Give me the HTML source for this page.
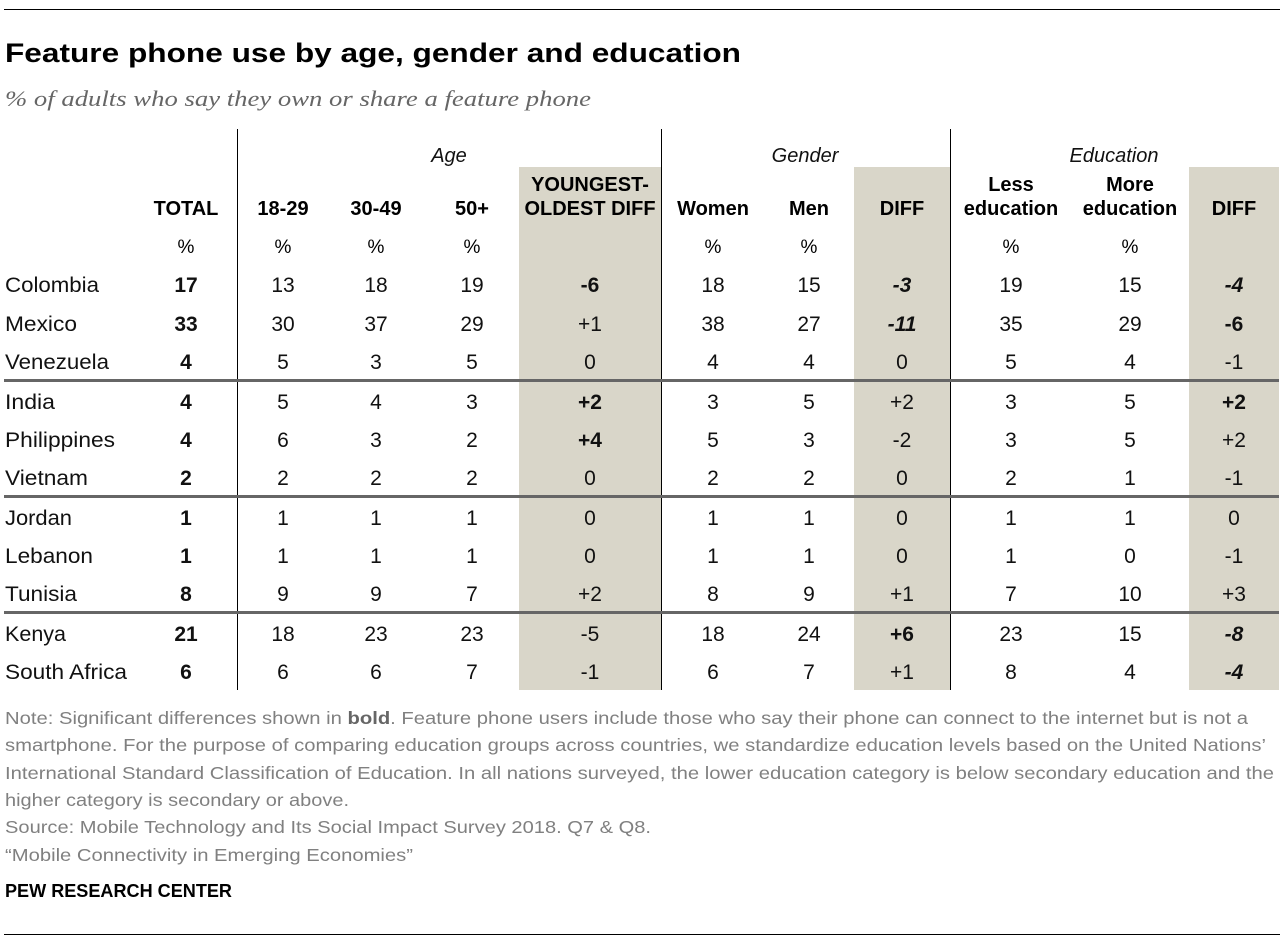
<!DOCTYPE html>
<html><head><meta charset="utf-8"><style>
html,body{margin:0;padding:0;background:#fff;}
svg{display:block;}
text{font-family:"Liberation Sans",Arial,sans-serif;}
.h{font-weight:bold;font-size:20px;fill:#000;text-anchor:middle;}
.p{font-size:19px;fill:#000;text-anchor:middle;}
.n{font-size:21px;fill:#111;text-anchor:middle;}
.b{font-weight:bold;}
.i{font-style:italic;}
.c{font-size:21px;fill:#111;}
.g{font-style:italic;font-size:20px;fill:#111;text-anchor:middle;}
.note{font-size:17.5px;fill:#808080;}
</style></head><body>
<svg width="1286" height="946" viewBox="0 0 1286 946" xmlns="http://www.w3.org/2000/svg">
<rect x="0" y="0" width="1286" height="946" fill="#fff"/>
<line x1="4" y1="9.5" x2="1280" y2="9.5" stroke="#000" stroke-width="1"/>
<text x="5" y="62" font-size="27" font-weight="bold" fill="#000" textLength="736" lengthAdjust="spacingAndGlyphs">Feature phone use by age, gender and education</text>
<text x="5" y="106" font-size="22" font-style="italic" fill="#666" style="font-family:'Liberation Serif',serif" textLength="586" lengthAdjust="spacingAndGlyphs">% of adults who say they own or share a feature phone</text>

<!-- shaded columns -->
<rect x="519" y="167" width="142" height="523" fill="#d9d6c9"/>
<rect x="854" y="167" width="96" height="523" fill="#d9d6c9"/>
<rect x="1189" y="167" width="90" height="523" fill="#d9d6c9"/>

<!-- vertical lines -->
<line x1="237.5" y1="129" x2="237.5" y2="690" stroke="#000" stroke-width="1"/>
<line x1="661.5" y1="129" x2="661.5" y2="690" stroke="#000" stroke-width="1"/>
<line x1="950.5" y1="129" x2="950.5" y2="690" stroke="#000" stroke-width="1"/>

<!-- group headers -->
<text class="g" x="449" y="162">Age</text>
<text class="g" x="805" y="162">Gender</text>
<text class="g" x="1114" y="162">Education</text>

<!-- column headers -->
<text class="h" x="186" y="215">TOTAL</text>
<text class="h" x="283" y="215">18-29</text>
<text class="h" x="376" y="215">30-49</text>
<text class="h" x="472" y="215">50+</text>
<text class="h" x="590" y="191">YOUNGEST-</text>
<text class="h" x="590" y="215">OLDEST DIFF</text>
<text class="h" x="713" y="215">Women</text>
<text class="h" x="809" y="215">Men</text>
<text class="h" x="902" y="215">DIFF</text>
<text class="h" x="1011" y="191">Less</text>
<text class="h" x="1011" y="215">education</text>
<text class="h" x="1130" y="191">More</text>
<text class="h" x="1130" y="215">education</text>
<text class="h" x="1234" y="215">DIFF</text>

<text class="p" x="186" y="253">%</text>
<text class="p" x="283" y="253">%</text>
<text class="p" x="376" y="253">%</text>
<text class="p" x="472" y="253">%</text>
<text class="p" x="713" y="253">%</text>
<text class="p" x="809" y="253">%</text>
<text class="p" x="1011" y="253">%</text>
<text class="p" x="1130" y="253">%</text>

<!-- separators -->
<line x1="4" y1="380.5" x2="1279" y2="380.5" stroke="#666" stroke-width="3"/>
<line x1="4" y1="496.5" x2="1279" y2="496.5" stroke="#666" stroke-width="3"/>
<line x1="4" y1="612.5" x2="1279" y2="612.5" stroke="#666" stroke-width="3"/>

<!-- rows -->
<g>
<text class="c" x="5" y="292" textLength="94" lengthAdjust="spacingAndGlyphs">Colombia</text>
<text class="n b" x="186" y="292">17</text>
<text class="n" x="283" y="292">13</text><text class="n" x="376" y="292">18</text><text class="n" x="472" y="292">19</text>
<text class="n b" x="590" y="292">-6</text>
<text class="n" x="713" y="292">18</text><text class="n" x="809" y="292">15</text>
<text class="n b i" x="902" y="292">-3</text>
<text class="n" x="1011" y="292">19</text><text class="n" x="1130" y="292">15</text>
<text class="n b i" x="1234" y="292">-4</text>
</g>
<g>
<text class="c" x="5" y="331" textLength="72" lengthAdjust="spacingAndGlyphs">Mexico</text>
<text class="n b" x="186" y="331">33</text>
<text class="n" x="283" y="331">30</text><text class="n" x="376" y="331">37</text><text class="n" x="472" y="331">29</text>
<text class="n" x="590" y="331">+1</text>
<text class="n" x="713" y="331">38</text><text class="n" x="809" y="331">27</text>
<text class="n b i" x="902" y="331">-11</text>
<text class="n" x="1011" y="331">35</text><text class="n" x="1130" y="331">29</text>
<text class="n b" x="1234" y="331">-6</text>
</g>
<g>
<text class="c" x="5" y="369" textLength="104" lengthAdjust="spacingAndGlyphs">Venezuela</text>
<text class="n b" x="186" y="369">4</text>
<text class="n" x="283" y="369">5</text><text class="n" x="376" y="369">3</text><text class="n" x="472" y="369">5</text>
<text class="n" x="590" y="369">0</text>
<text class="n" x="713" y="369">4</text><text class="n" x="809" y="369">4</text>
<text class="n" x="902" y="369">0</text>
<text class="n" x="1011" y="369">5</text><text class="n" x="1130" y="369">4</text>
<text class="n" x="1234" y="369">-1</text>
</g>
<g>
<text class="c" x="5" y="409" textLength="50" lengthAdjust="spacingAndGlyphs">India</text>
<text class="n b" x="186" y="409">4</text>
<text class="n" x="283" y="409">5</text><text class="n" x="376" y="409">4</text><text class="n" x="472" y="409">3</text>
<text class="n b" x="590" y="409">+2</text>
<text class="n" x="713" y="409">3</text><text class="n" x="809" y="409">5</text>
<text class="n" x="902" y="409">+2</text>
<text class="n" x="1011" y="409">3</text><text class="n" x="1130" y="409">5</text>
<text class="n b" x="1234" y="409">+2</text>
</g>
<g>
<text class="c" x="5" y="447" textLength="110" lengthAdjust="spacingAndGlyphs">Philippines</text>
<text class="n b" x="186" y="447">4</text>
<text class="n" x="283" y="447">6</text><text class="n" x="376" y="447">3</text><text class="n" x="472" y="447">2</text>
<text class="n b" x="590" y="447">+4</text>
<text class="n" x="713" y="447">5</text><text class="n" x="809" y="447">3</text>
<text class="n" x="902" y="447">-2</text>
<text class="n" x="1011" y="447">3</text><text class="n" x="1130" y="447">5</text>
<text class="n" x="1234" y="447">+2</text>
</g>
<g>
<text class="c" x="5" y="485" textLength="83" lengthAdjust="spacingAndGlyphs">Vietnam</text>
<text class="n b" x="186" y="485">2</text>
<text class="n" x="283" y="485">2</text><text class="n" x="376" y="485">2</text><text class="n" x="472" y="485">2</text>
<text class="n" x="590" y="485">0</text>
<text class="n" x="713" y="485">2</text><text class="n" x="809" y="485">2</text>
<text class="n" x="902" y="485">0</text>
<text class="n" x="1011" y="485">2</text><text class="n" x="1130" y="485">1</text>
<text class="n" x="1234" y="485">-1</text>
</g>
<g>
<text class="c" x="5" y="525" textLength="67" lengthAdjust="spacingAndGlyphs">Jordan</text>
<text class="n b" x="186" y="525">1</text>
<text class="n" x="283" y="525">1</text><text class="n" x="376" y="525">1</text><text class="n" x="472" y="525">1</text>
<text class="n" x="590" y="525">0</text>
<text class="n" x="713" y="525">1</text><text class="n" x="809" y="525">1</text>
<text class="n" x="902" y="525">0</text>
<text class="n" x="1011" y="525">1</text><text class="n" x="1130" y="525">1</text>
<text class="n" x="1234" y="525">0</text>
</g>
<g>
<text class="c" x="5" y="563" textLength="88" lengthAdjust="spacingAndGlyphs">Lebanon</text>
<text class="n b" x="186" y="563">1</text>
<text class="n" x="283" y="563">1</text><text class="n" x="376" y="563">1</text><text class="n" x="472" y="563">1</text>
<text class="n" x="590" y="563">0</text>
<text class="n" x="713" y="563">1</text><text class="n" x="809" y="563">1</text>
<text class="n" x="902" y="563">0</text>
<text class="n" x="1011" y="563">1</text><text class="n" x="1130" y="563">0</text>
<text class="n" x="1234" y="563">-1</text>
</g>
<g>
<text class="c" x="5" y="601" textLength="72" lengthAdjust="spacingAndGlyphs">Tunisia</text>
<text class="n b" x="186" y="601">8</text>
<text class="n" x="283" y="601">9</text><text class="n" x="376" y="601">9</text><text class="n" x="472" y="601">7</text>
<text class="n" x="590" y="601">+2</text>
<text class="n" x="713" y="601">8</text><text class="n" x="809" y="601">9</text>
<text class="n" x="902" y="601">+1</text>
<text class="n" x="1011" y="601">7</text><text class="n" x="1130" y="601">10</text>
<text class="n" x="1234" y="601">+3</text>
</g>
<g>
<text class="c" x="5" y="641" textLength="61" lengthAdjust="spacingAndGlyphs">Kenya</text>
<text class="n b" x="186" y="641">21</text>
<text class="n" x="283" y="641">18</text><text class="n" x="376" y="641">23</text><text class="n" x="472" y="641">23</text>
<text class="n" x="590" y="641">-5</text>
<text class="n" x="713" y="641">18</text><text class="n" x="809" y="641">24</text>
<text class="n b" x="902" y="641">+6</text>
<text class="n" x="1011" y="641">23</text><text class="n" x="1130" y="641">15</text>
<text class="n b i" x="1234" y="641">-8</text>
</g>
<g>
<text class="c" x="5" y="679" textLength="122" lengthAdjust="spacingAndGlyphs">South Africa</text>
<text class="n b" x="186" y="679">6</text>
<text class="n" x="283" y="679">6</text><text class="n" x="376" y="679">6</text><text class="n" x="472" y="679">7</text>
<text class="n" x="590" y="679">-1</text>
<text class="n" x="713" y="679">6</text><text class="n" x="809" y="679">7</text>
<text class="n" x="902" y="679">+1</text>
<text class="n" x="1011" y="679">8</text><text class="n" x="1130" y="679">4</text>
<text class="n b i" x="1234" y="679">-4</text>
</g>

<!-- notes -->
<text class="note" x="5" y="724" textLength="1243" lengthAdjust="spacingAndGlyphs">Note: Significant differences shown in <tspan font-weight="bold" fill="#666">bold</tspan>. Feature phone users include those who say their phone can connect to the internet but is not a</text>
<text class="note" x="5" y="751" textLength="1261" lengthAdjust="spacingAndGlyphs">smartphone. For the purpose of comparing education groups across countries, we standardize education levels based on the United Nations’</text>
<text class="note" x="5" y="779" textLength="1269" lengthAdjust="spacingAndGlyphs">International Standard Classification of Education. In all nations surveyed, the lower education category is below secondary education and the</text>
<text class="note" x="5" y="806" textLength="344" lengthAdjust="spacingAndGlyphs">higher category is secondary or above.</text>
<text class="note" x="5" y="833" textLength="646" lengthAdjust="spacingAndGlyphs">Source: Mobile Technology and Its Social Impact Survey 2018. Q7 &amp; Q8.</text>
<text class="note" x="5" y="861" textLength="408" lengthAdjust="spacingAndGlyphs">“Mobile Connectivity in Emerging Economies”</text>
<text x="5" y="897" font-size="18" font-weight="bold" fill="#000" textLength="227" lengthAdjust="spacingAndGlyphs">PEW RESEARCH CENTER</text>

<line x1="4" y1="934.5" x2="1280" y2="934.5" stroke="#000" stroke-width="1"/>
</svg>
</body></html>
